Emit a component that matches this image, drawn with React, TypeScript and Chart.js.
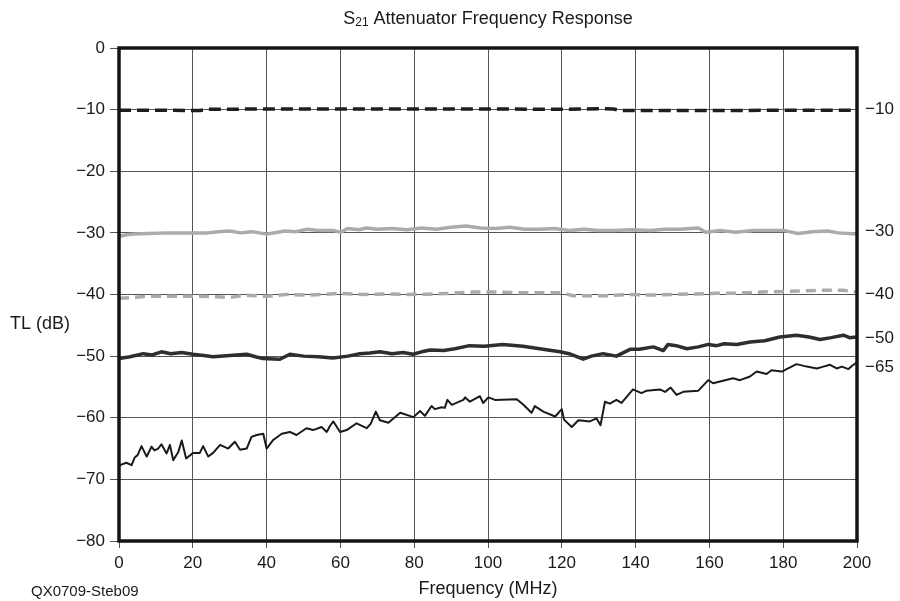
import { useEffect, useRef } from 'react';
import { Chart, registerables } from 'chart.js';

Chart.register(...registerables);

// ---------- Text ----------
const TITLE_MAIN = 'S';
const TITLE_SUB = '21';
const TITLE_REST = ' Attenuator Frequency Response';
const X_TITLE = 'Frequency (MHz)';
const Y_TITLE = 'TL (dB)';
const FIG_ID = 'QX0709-Steb09';

// ---------- Axes ----------
const X_MIN = 0;
const X_MAX = 200;
const X_STEP = 20;
const Y_MIN = -80;
const Y_MAX = 0;
const Y_STEP = 10;

// ---------- Curve end labels ----------
const END_LABELS = ['-10', '-30', '-40', '-50', '-65'];
const END_LABEL_DB = [-10, -29.8, -40, -47.1, -51.8];

// ---------- Series: 10 dB attenuator ----------
const f10 = [0, 10, 22, 24, 40, 60, 80, 100, 120, 130, 134, 136, 140, 160, 180, 200];
const tl10 = [-10.1, -10.1, -10.15, -9.95, -9.9, -9.9, -9.9, -9.9, -9.95, -9.85, -9.9, -10.15, -10.15, -10.15, -10.1, -10.1];

// ---------- Series: 30 dB attenuator ----------
const f30 = [0, 2, 4, 8, 13, 17, 20, 24, 27, 30, 33, 36, 40, 43, 45, 48, 51, 54, 58, 60, 62, 65, 67, 70, 74, 78, 82, 86, 90, 94, 98, 102, 106, 110, 114, 118, 122, 126, 130, 134, 139, 144, 148, 152, 157, 159, 163, 167, 172, 176, 180, 184, 188, 192, 195, 200];
const tl30 = [-30.6, -30.3, -30.2, -30.1, -30.0, -30.0, -30.0, -30.0, -29.8, -29.7, -30.0, -29.8, -30.2, -29.9, -29.7, -29.8, -29.4, -29.6, -29.6, -29.9, -29.3, -29.5, -29.2, -29.4, -29.3, -29.5, -29.2, -29.4, -29.1, -28.9, -29.2, -29.3, -29.1, -29.4, -29.4, -29.3, -29.6, -29.4, -29.6, -29.6, -29.5, -29.6, -29.4, -29.4, -29.2, -29.9, -29.6, -29.9, -29.6, -29.6, -29.6, -30.1, -29.8, -29.7, -30.0, -30.2];

// ---------- Series: 40 dB attenuator ----------
const f40 = [0, 3, 8, 15, 22, 28, 30, 34, 40, 45, 52, 60, 66, 72, 78, 84, 90, 96, 102, 108, 114, 120, 123, 128, 132, 138, 145, 150, 156, 162, 168, 174, 180, 186, 192, 196, 200];
const tl40 = [-40.6, -40.5, -40.3, -40.3, -40.3, -40.4, -40.5, -40.1, -40.3, -40.0, -40.1, -39.8, -40.0, -39.9, -40.0, -39.95, -39.8, -39.6, -39.6, -39.7, -39.7, -39.7, -40.2, -40.2, -40.2, -40.0, -40.1, -40.0, -39.9, -39.8, -39.8, -39.6, -39.5, -39.4, -39.3, -39.3, -39.6];

// ---------- Series: 50 dB attenuator ----------
const f50 = [0, 3, 6.6, 9, 11.5, 14, 17, 20, 23, 25.5, 30, 34.6, 37, 39, 43.6, 46.3, 50, 54, 58, 62, 65.3, 68, 70.7, 74, 77, 79.7, 82, 84.3, 88, 91, 95, 99, 104, 109.5, 114, 119.5, 122, 125.8, 128, 131.2, 134.8, 138.5, 141, 144.8, 147.5, 148.8, 151, 153.9, 157, 159.7, 162, 164, 167.4, 171, 175, 179.1, 183.6, 187, 190, 193, 196.3, 198, 200];
const tl50 = [-50.4, -50.1, -49.6, -49.8, -49.3, -49.6, -49.4, -49.7, -49.9, -50.1, -49.9, -49.7, -50.1, -50.4, -50.5, -49.7, -50.0, -50.1, -50.3, -50.0, -49.6, -49.5, -49.3, -49.6, -49.4, -49.7, -49.3, -49.0, -49.1, -48.8, -48.3, -48.4, -48.1, -48.4, -48.8, -49.3, -49.6, -50.5, -50.0, -49.6, -50.0, -48.9, -48.9, -48.5, -49.1, -48.1, -48.3, -48.8, -48.5, -48.1, -48.3, -48.0, -48.1, -47.7, -47.5, -46.9, -46.6, -46.9, -47.3, -47.0, -46.6, -47.0, -46.9];

// ---------- Series: 65 dB attenuator ----------
const f65 = [0, 0.6, 2, 3.4, 4.3, 5, 6.1, 7.5, 8.8, 9.6, 10.6, 11.5, 12.9, 13.8, 14.7, 16.1, 17, 18.2, 20.1, 21.9, 22.8, 24.2, 25.5, 27.4, 29.6, 31.4, 32.8, 34.6, 35.9, 37.3, 39.1, 40, 41.8, 44.1, 46.3, 48.1, 50.8, 52.6, 54.9, 56.3, 57.2, 58.1, 59.9, 61.7, 64.4, 67.1, 68.2, 69.6, 70.7, 73, 76.2, 79.8, 81.6, 82.9, 84.7, 85.6, 87.4, 88.3, 89, 90.2, 93.3, 93.8, 95.1, 97.8, 98.7, 100.1, 101.9, 107.8, 109.6, 111.8, 112.7, 115, 118.2, 120, 120.6, 122.7, 124.5, 127.6, 129.4, 130.5, 131.7, 133, 134.8, 136.2, 139.3, 141.6, 143, 146.6, 148, 149.5, 151.1, 152.9, 157, 159.7, 161, 166.4, 168.3, 171, 172.8, 175.5, 176.8, 179.6, 183.6, 186.4, 189.1, 190.9, 192.7, 194.5, 195.9, 197.7, 198.6, 200];
const tl65 = [-67.9, -67.6, -67.3, -67.7, -66.4, -66.1, -64.6, -66.3, -64.7, -65.3, -65.0, -64.3, -65.8, -64.4, -66.9, -65.5, -63.7, -66.6, -65.7, -65.7, -64.6, -66.3, -65.7, -64.4, -65.0, -63.9, -65.2, -65.0, -63.1, -62.8, -62.6, -65.0, -63.6, -62.6, -62.3, -62.8, -61.7, -62.0, -61.5, -62.3, -61.3, -60.6, -62.3, -62.0, -60.9, -61.7, -61.0, -59.0, -60.4, -60.8, -59.2, -59.9, -58.9, -59.7, -58.1, -58.6, -58.3, -58.4, -57.1, -57.9, -57.1, -56.7, -57.4, -56.5, -57.6, -56.7, -57.1, -57.0, -57.9, -59.2, -58.1, -59.0, -59.8, -58.6, -60.3, -61.5, -60.4, -60.6, -60.1, -61.2, -57.4, -57.7, -57.1, -57.6, -55.4, -56.0, -55.6, -55.4, -55.8, -55.1, -56.3, -55.8, -55.6, -53.9, -54.4, -53.6, -53.9, -53.3, -52.5, -52.9, -52.3, -52.5, -51.3, -51.7, -52.0, -51.7, -51.4, -52.0, -51.7, -52.1, -51.6, -51.0];

const FONT = '"Liberation Sans", Arial, Helvetica, sans-serif';
const minus = (s: string) => s.replace('-', '\u2212');

const toPoints = (xs: number[], ys: number[]) => xs.map((x, i) => ({ x, y: ys[i] }));

const overlayPlugin = {
  id: 'overlay',
  afterDatasetsDraw(chart: any) {
    const { ctx, chartArea: a, scales } = chart;
    const ys = scales.y;
    ctx.save();
    // frame
    ctx.strokeStyle = '#141414';
    ctx.lineWidth = 3.5;
    ctx.strokeRect(a.left, a.top, a.right - a.left, a.bottom - a.top);

    ctx.fillStyle = '#1a1a1a';
    ctx.textBaseline = 'middle';

    // title with subscript
    const big = `18px ${FONT}`;
    const small = `12px ${FONT}`;
    ctx.font = big;
    const w1 = ctx.measureText(TITLE_MAIN).width;
    const w3 = ctx.measureText(TITLE_REST).width;
    ctx.font = small;
    const w2 = ctx.measureText(TITLE_SUB).width;
    const total = w1 + w2 + w3;
    let tx = (a.left + a.right) / 2 - total / 2;
    const ty = 19;
    ctx.textAlign = 'left';
    ctx.font = big;
    ctx.fillText(TITLE_MAIN, tx, ty);
    tx += w1;
    ctx.font = small;
    ctx.fillText(TITLE_SUB, tx, ty + 4);
    tx += w2;
    ctx.font = big;
    ctx.fillText(TITLE_REST, tx, ty);

    // y title (horizontal)
    ctx.font = `18px ${FONT}`;
    ctx.fillText(Y_TITLE, 10, 324);

    // figure id
    ctx.font = `15px ${FONT}`;
    ctx.fillText(FIG_ID, 31, 592);

    // end labels
    ctx.font = `17px ${FONT}`;
    END_LABELS.forEach((lab, i) => {
      ctx.fillText(minus(lab), a.right + 8, ys.getPixelForValue(END_LABEL_DB[i]));
    });
    ctx.restore();
  },
};

export default function App() {
  const ref = useRef<HTMLCanvasElement | null>(null);

  useEffect(() => {
    document.body.style.margin = '0';
    const canvas = ref.current;
    if (!canvas) return;
    const chart = new Chart(canvas, {
      type: 'line',
      data: {
        datasets: [
          {
            label: '10 dB',
            data: toPoints(f10, tl10),
            borderColor: '#1e1e1e',
            borderWidth: 3.5,
            borderDash: [12, 6],
            pointRadius: 0,
          },
          {
            label: '30 dB',
            data: toPoints(f30, tl30),
            borderColor: '#ababab',
            borderWidth: 3.5,
            pointRadius: 0,
          },
          {
            label: '40 dB',
            data: toPoints(f40, tl40),
            borderColor: '#ababab',
            borderWidth: 3.5,
            borderDash: [10, 6],
            pointRadius: 0,
          },
          {
            label: '50 dB',
            data: toPoints(f50, tl50),
            borderColor: '#2e2e2e',
            borderWidth: 3.5,
            pointRadius: 0,
          },
          {
            label: '65 dB',
            data: toPoints(f65, tl65),
            borderColor: '#1a1a1a',
            borderWidth: 2,
            pointRadius: 0,
          },
        ] as any,
      },
      options: {
        animation: false,
        responsive: true,
        maintainAspectRatio: false,
        layout: { padding: { top: 48, right: 43, bottom: 0, left: 0 } },
        plugins: {
          legend: { display: false },
          tooltip: { enabled: false },
          title: { display: false },
        },
        elements: { line: { tension: 0, borderJoinStyle: 'round' } },
        scales: {
          x: {
            type: 'linear',
            min: X_MIN,
            max: X_MAX,
            ticks: {
              stepSize: X_STEP,
              color: '#1a1a1a',
              font: { family: FONT, size: 17 },
              padding: 5,
              maxRotation: 0,
            },
            grid: { color: '#555', lineWidth: 1, tickLength: 7, tickColor: '#555' },
            border: { display: false },
            title: {
              display: true,
              text: X_TITLE,
              color: '#1a1a1a',
              font: { family: FONT, size: 18 },
              padding: { top: 0, bottom: 1 },
            },
            afterFit: (s: any) => {
              s.height = 60;
            },
          },
          y: {
            type: 'linear',
            min: Y_MIN,
            max: Y_MAX,
            ticks: {
              stepSize: Y_STEP,
              color: '#1a1a1a',
              font: { family: FONT, size: 17 },
              padding: 5,
              callback: (v: any) => minus(String(v)),
            },
            grid: { color: '#555', lineWidth: 1, tickLength: 9, tickColor: '#555' },
            border: { display: false },
            afterFit: (s: any) => {
              s.width = 119;
            },
          },
        },
      },
      plugins: [overlayPlugin],
    } as any);
    return () => chart.destroy();
  }, []);

  return (
    <div style={{ position: 'relative', width: 900, height: 601 }}>
      <canvas ref={ref} />
    </div>
  );
}
